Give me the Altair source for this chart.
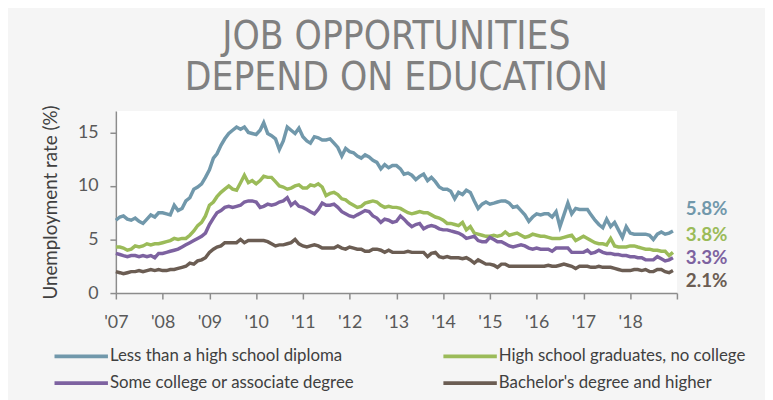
import altair as alt
import pandas as pd

# ---- data (monthly, Jan 2007 - Dec 2018) ----
years = list(range(2007, 2019))

less_hs = [
    6.8, 7.1, 7.2, 6.9, 6.8, 7.0, 6.7, 6.5, 6.9, 7.3, 7.1, 7.5,
    7.5, 7.4, 7.3, 8.2, 7.7, 7.9, 8.6, 8.9, 9.7, 9.9, 10.2, 10.8,
    11.5, 12.6, 13.0, 13.8, 14.4, 14.9, 15.2, 15.5, 15.3, 15.5, 15.0, 14.9,
    14.8, 15.2, 15.9, 14.9, 14.7, 14.4, 13.4, 14.2, 15.5, 15.2, 14.9, 15.4,
    14.6, 14.2, 14.0, 14.6, 14.5, 14.3, 14.3, 14.4, 14.0, 13.6, 12.8, 13.5,
    13.2, 13.1, 12.8, 12.6, 12.9, 12.7, 12.4, 12.2, 11.6, 12.0, 11.7, 11.9,
    11.9, 11.6, 11.1, 11.2, 11.0, 10.6, 10.9, 11.1, 10.5, 10.8, 10.4, 9.9,
    9.7, 9.7, 9.5, 8.8, 9.4, 9.2, 9.6, 9.4, 8.6, 7.9, 8.3, 8.5,
    8.3, 8.4, 8.5, 8.6, 8.6, 8.4, 8.0, 8.1, 7.7, 7.3, 6.7, 7.1,
    7.4, 7.3, 7.4, 7.4, 7.1, 7.6, 6.2, 7.3, 8.4, 7.4, 7.9, 7.8,
    7.8, 7.8, 7.3, 6.8, 6.4, 6.1, 6.9, 6.2, 6.6, 5.9, 5.2, 6.2,
    5.6, 5.5, 5.5, 5.5, 5.5, 5.4, 5.0, 5.5, 5.7, 5.5, 5.6, 5.8,
]

hs_grad = [
    4.3, 4.3, 4.2, 4.0, 4.1, 4.4, 4.3, 4.4, 4.6, 4.5, 4.6, 4.6,
    4.7, 4.8, 4.9, 5.1, 5.0, 5.1, 5.1, 5.4, 5.8, 6.3, 6.6, 7.2,
    8.2, 8.5, 9.0, 9.4, 9.7, 10.0, 9.7, 9.6, 10.3, 11.0, 10.3, 10.5,
    10.2, 10.5, 10.9, 10.8, 10.8, 10.4, 10.0, 9.9, 9.7, 9.8, 10.0, 10.1,
    9.8, 9.8, 10.1, 10.0, 10.2, 9.9, 9.1, 9.3, 9.4, 9.2, 8.8, 8.7,
    8.4, 8.2, 8.0, 8.1, 8.4, 8.5, 8.6, 8.5, 8.2, 8.0, 8.1, 8.0,
    8.0, 7.9, 7.7, 7.5, 7.4, 7.5, 7.6, 7.5, 7.5, 7.3, 7.1, 7.0,
    6.8, 6.5, 6.5, 6.4, 6.3, 6.6, 5.9, 6.2, 5.6, 5.5, 5.4, 5.3,
    5.3, 5.4, 5.3, 5.4, 5.7, 5.4, 5.5, 5.6, 5.4, 5.2, 5.3, 5.5,
    5.4, 5.3, 5.3, 5.2, 5.1, 5.1, 5.1, 5.2, 5.3, 5.4, 4.9, 5.1,
    5.3, 5.1, 4.9, 4.7, 4.6, 4.6, 4.5, 5.1, 4.4, 4.3, 4.3, 4.3,
    4.4, 4.4, 4.3, 4.2, 4.1, 4.1, 4.0, 4.0, 3.9, 3.9, 3.5, 3.8,
]

some_college = [
    3.7, 3.6, 3.5, 3.4, 3.5, 3.5, 3.4, 3.5, 3.4, 3.5, 3.3, 3.7,
    3.7, 3.8, 3.9, 4.0, 4.1, 4.3, 4.5, 4.7, 4.9, 5.1, 5.3, 5.6,
    6.4, 7.0, 7.5, 7.7, 8.0, 8.1, 8.0, 8.1, 8.2, 8.5, 8.6, 8.6,
    8.5, 8.0, 8.1, 8.3, 8.2, 8.3, 8.5, 8.6, 8.9, 8.2, 8.5, 8.1,
    8.0, 7.8, 7.6, 7.4, 7.8, 8.4, 8.2, 8.2, 8.3, 8.0, 7.6, 7.4,
    7.2, 7.1, 7.3, 7.5, 7.7, 7.6, 7.2, 7.0, 6.6, 6.9, 6.8, 6.6,
    6.7, 7.2, 6.9, 6.5, 6.2, 6.4, 6.5, 6.0, 6.2, 6.3, 6.2, 6.0,
    5.9, 5.9, 5.8, 5.7, 5.6, 5.4, 5.1, 5.2, 5.3, 4.9, 4.8, 4.8,
    5.2, 5.0, 4.8, 4.8, 4.6, 4.4, 4.3, 4.4, 4.5, 4.4, 4.2, 4.1,
    4.2, 4.1, 4.1, 4.1, 3.9, 4.2, 4.2, 4.2, 4.2, 3.8, 3.8, 3.8,
    3.8, 4.0, 3.7, 3.8, 4.0, 3.8, 3.7, 3.7, 3.6, 3.6, 3.5, 3.5,
    3.4, 3.4, 3.3, 3.3, 3.1, 3.1, 3.1, 3.4, 3.2, 3.0, 3.1, 3.3,
]

bachelor = [
    2.0, 1.9, 1.8, 1.9, 2.0, 2.0, 2.1, 2.0, 2.1, 2.2, 2.1, 2.2,
    2.1, 2.1, 2.2, 2.2, 2.3, 2.4, 2.5, 2.8, 2.7, 3.0, 3.1, 3.3,
    3.8, 4.1, 4.3, 4.4, 4.7, 4.7, 4.7, 4.7, 5.0, 4.7, 4.9, 4.9,
    4.9, 4.9, 4.9, 4.8, 4.6, 4.4, 4.5, 4.5, 4.6, 4.7, 5.0, 4.6,
    4.4, 4.3, 4.4, 4.5, 4.4, 4.2, 4.2, 4.2, 4.2, 4.4, 4.2, 4.1,
    4.3, 4.2, 4.1, 4.1, 3.9, 3.9, 4.1, 4.1, 4.0, 3.8, 4.0, 3.8,
    3.8, 3.8, 3.8, 3.9, 3.8, 3.8, 3.8, 3.8, 3.4, 3.7, 3.8, 3.4,
    3.3, 3.4, 3.3, 3.3, 3.3, 3.2, 3.3, 3.1, 2.8, 3.1, 2.9, 2.7,
    2.7, 2.6, 2.4, 2.7, 2.7, 2.5, 2.5, 2.5, 2.5, 2.5, 2.5, 2.5,
    2.5, 2.5, 2.5, 2.6, 2.5, 2.5, 2.6, 2.7, 2.6, 2.5, 2.3, 2.5,
    2.5, 2.5, 2.4, 2.4, 2.5, 2.4, 2.4, 2.4, 2.3, 2.2, 2.1, 2.1,
    2.1, 2.2, 2.2, 2.1, 2.2, 2.0, 2.0, 2.2, 2.2, 2.0, 1.9, 2.1,
]

series_names = [
    "Less than a high school diploma",
    "High school graduates, no college",
    "Some college or associate degree",
    "Bachelor's degree and higher",
]
series_colors = ["#7198ab", "#9bbb59", "#7d62a0", "#6b5d53"]
end_labels = ["5.8%", "3.8%", "3.3%", "2.1%"]
end_label_pos = [7.8, 5.4, 3.3, 1.1]   # label positions in y units (spread apart)
y_ticks = [0, 5, 10, 15]
x_tick_years = list(range(2007, 2020))
title_lines = ["JOB OPPORTUNITIES", "DEPEND ON EDUCATION"]

# ---- tables ----
dates = [f"{y}-{m:02d}-01" for y in years for m in range(1, 13)]
rows = []
for name, vals in zip(series_names, [less_hs, hs_grad, some_college, bachelor]):
    for d, v in zip(dates, vals):
        rows.append({"date": d, "rate": v, "series": name})
df = pd.DataFrame(rows)

lab = pd.DataFrame({
    "date": [dates[-1]] * 4,
    "pos": end_label_pos,
    "text": end_labels,
    "series": series_names,
})

FONT = "Lato"
color_scale = alt.Scale(domain=series_names, range=series_colors)
x_scale = alt.Scale(
    type="utc",
    domain=[alt.DateTime(year=2007, month=1, date=1, utc=True),
            alt.DateTime(year=2019, month=1, date=1, utc=True)],
)
y_scale = alt.Scale(domain=[0, 17], nice=False)

x_axis = alt.Axis(
    title=None,
    values=[alt.DateTime(year=y, month=1, date=1, utc=True) for y in x_tick_years],
    labelExpr="utcyear(datum.value) >= 2019 ? '' : \"'\" + utcFormat(datum.value, '%y')",
    labelFlush=False,
    labelPadding=15,
    labelAngle=0,
)
y_axis = alt.Axis(
    values=y_ticks,
    title="Unemployment rate (%)",
    titleFont=FONT,
    titleFontSize=19,
    titleFontWeight="normal",
    titleColor="#404040",
    titlePadding=17,
    labelPadding=12,
)

lines = alt.Chart(df).mark_line(strokeWidth=3.5).encode(
    x=alt.X("date:T", scale=x_scale, axis=x_axis),
    y=alt.Y("rate:Q", scale=y_scale, axis=y_axis),
    color=alt.Color(
        "series:N",
        scale=color_scale,
        sort=series_names,
        legend=alt.Legend(
            title=None,
            orient="none",
            legendX=-64,
            legendY=239,
            columns=2,
            direction="horizontal",
            symbolType="stroke",
            symbolSize=2916,
            symbolStrokeWidth=4,
            clipHeight=18,
            labelOffset=0,
            labelFont=FONT,
            labelFontSize=17,
            labelColor="#404040",
            labelLimit=400,
            columnPadding=88,
            rowPadding=9,
            padding=0,
        ),
    ),
)

labels = alt.Chart(lab).mark_text(
    align="left", baseline="middle", dx=13, font=FONT, fontSize=19, fontWeight="bold"
).encode(
    x=alt.X("date:T", scale=x_scale),
    y=alt.Y("pos:Q", scale=y_scale),
    text="text:N",
    color=alt.Color("series:N", scale=color_scale, legend=None),
)

chart = alt.layer(lines, labels).properties(
    width=567,
    height=184,
    title=alt.TitleParams(
        text=title_lines,
        font="Liberation Sans Narrow, DejaVu Sans Condensed, sans-serif",
        fontSize=39,
        fontWeight="normal",
        color="#808080",
        anchor="middle",
        lineHeight=42,
        offset=7,
        frame="group",
    ),
    padding={"left": 109, "top": 102, "right": 89, "bottom": 106},
    autosize=alt.AutoSizeParams(type="none"),
    background="#f5f5f5",
).configure_view(
    fill="white", stroke=None
).configure_axis(
    grid=False,
    domainColor="#8c8c8c",
    domainWidth=1.5,
    tickColor="#8c8c8c",
    tickWidth=1.5,
    tickSize=6,
    labelFont=FONT,
    labelFontSize=18,
    labelColor="#595959",
)

chart.save("out.html", embed_options={"renderer": "svg", "actions": False})
